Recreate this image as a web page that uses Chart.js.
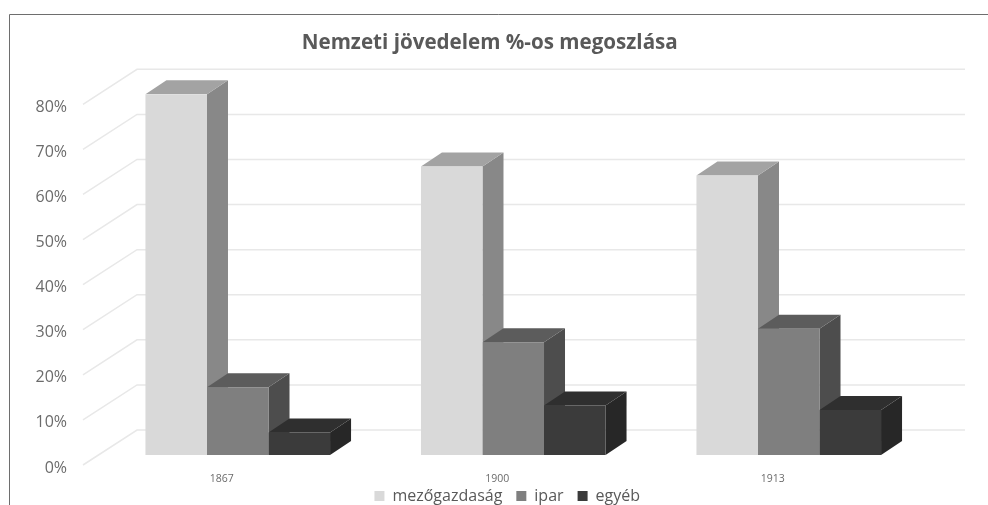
<!DOCTYPE html>
<html>
<head>
<meta charset="utf-8">
<style>
  html, body { margin: 0; padding: 0; background: #fff; }
  canvas { display: block; }
</style>
<script src="https://cdn.jsdelivr.net/npm/chart.js@4"></script>
</head>
<body>
<canvas id="chart" width="988" height="505"></canvas>
<script>
const years = ['1867', '1900', '1913'];
const mezogazdasag = [80, 64, 62];
const ipar = [15, 25, 28];
const egyeb = [5, 11, 10];
const yTicks = [0, 10, 20, 30, 40, 50, 60, 70, 80];

// szinek: elolap, teteje, oldala
const shades = [
    { front: '#d9d9d9', top: '#a3a3a3', side: '#888888' },
    { front: '#7f7f7f', top: '#5c5c5c', side: '#4d4d4d' },
    { front: '#3b3b3b', top: '#2f2f2f', side: '#272727' }
];

// terbeli eltolas
const barDepth = { x: 21, y: 14 };
const wallDepth = { x: 54, y: 25, front: 10 };

const faux3d = {
    id: 'faux3d',
    afterLayout(chart) {
        // a cim es a jelmagyarazat nincs kozepen az eredetin
        const legend = chart.legend;
        legend.left += 39.5;
        legend.right += 39.5;
        legend.top += 9;
        legend.bottom += 9;
        chart.titleBlock.left += 22;
        chart.titleBlock.right += 22;
        // a tengelyfelirat ne vagodjon le
        chart.scales.x.bottom = chart.height;
    },
    beforeDraw(chart) {
        const ctx = chart.ctx;
        ctx.save();
        ctx.strokeStyle = '#6e6e6e';
        ctx.lineWidth = 1;
        ctx.beginPath();
        ctx.moveTo(9.5, 505);
        ctx.lineTo(9.5, 14.5);
        ctx.lineTo(988, 14.5);
        ctx.stroke();
        ctx.restore();
    },
    beforeDatasetsDraw(chart) {
        const ctx = chart.ctx;
        const yScale = chart.scales.y;
        const left = chart.chartArea.left;
        ctx.save();
        // racsvonalak a hatso falon es a bal oldali falon
        ctx.strokeStyle = '#e8e8e8';
        ctx.lineWidth = 1.5;
        yTicks.forEach(v => {
            const py = yScale.getPixelForValue(v);
            ctx.beginPath();
            ctx.moveTo(left - 17, py + wallDepth.front);
            ctx.lineTo(left - 17 + wallDepth.x, py - wallDepth.y);
            ctx.lineTo(965, py - wallDepth.y);
            ctx.stroke();
        });
        // oszlopok teteje es oldala, az elolapot a Chart.js rajzolja
        chart.data.datasets.forEach((ds, i) => {
            chart.getDatasetMeta(i).data.forEach(bar => {
                const x0 = bar.x - bar.width / 2;
                const x1 = bar.x + bar.width / 2;
                const dx = barDepth.x, dy = barDepth.y;
                ctx.fillStyle = shades[i].side;
                ctx.beginPath();
                ctx.moveTo(x1, bar.y);
                ctx.lineTo(x1 + dx, bar.y - dy);
                ctx.lineTo(x1 + dx, bar.base - dy);
                ctx.lineTo(x1, bar.base);
                ctx.closePath();
                ctx.fill();
                ctx.fillStyle = shades[i].top;
                ctx.beginPath();
                ctx.moveTo(x0, bar.y);
                ctx.lineTo(x0 + dx, bar.y - dy);
                ctx.lineTo(x1 + dx, bar.y - dy);
                ctx.lineTo(x1, bar.y);
                ctx.closePath();
                ctx.fill();
            });
        });
        ctx.restore();
    }
};

new Chart(document.getElementById('chart').getContext('2d'), {
    type: 'bar',
    data: {
        labels: years,
        datasets: [
            { label: 'mezőgazdaság', data: mezogazdasag, backgroundColor: shades[0].front },
            { label: 'ipar', data: ipar, backgroundColor: shades[1].front },
            { label: 'egyéb', data: egyeb, backgroundColor: shades[2].front }
        ]
    },
    options: {
        responsive: false,
        animation: false,
        devicePixelRatio: 1,
        barPercentage: 1,
        categoryPercentage: 0.67,
        layout: { padding: { left: 9, right: 61.5, top: 14, bottom: 0 } },
        plugins: {
            title: {
                display: true,
                text: 'Nemzeti jövedelem %-os megoszlása',
                color: '#595959',
                font: { family: '"Open Sans"', size: 20.6, weight: 'bold' },
                padding: { top: 17, bottom: 38.6 }
            },
            legend: {
                position: 'bottom',
                labels: {
                    color: '#595959',
                    font: { family: '"Open Sans"', size: 16 },
                    boxWidth: 10,
                    boxHeight: 10,
                    padding: 14
                }
            },
            tooltip: { enabled: false }
        },
        scales: {
            x: {
                grid: { display: false, drawTicks: false },
                border: { display: false },
                afterFit(s) { s.height = 10; },
                ticks: {
                    color: '#6b6b6b',
                    font: { family: '"Open Sans"', size: 10.5 },
                    padding: 18,
                    labelOffset: -16,
                    maxRotation: 0
                }
            },
            y: {
                min: 0,
                max: 80,
                grid: { display: false, drawTicks: false },
                border: { display: false },
                afterFit(s) { s.width = 91; },
                ticks: {
                    stepSize: 10,
                    color: '#6b6b6b',
                    font: { family: '"Open Sans"', size: 16 },
                    padding: 33,
                    labelOffset: 13,
                    callback: v => v + '%'
                }
            }
        }
    },
    plugins: [faux3d]
});
</script>
</body>
</html>
